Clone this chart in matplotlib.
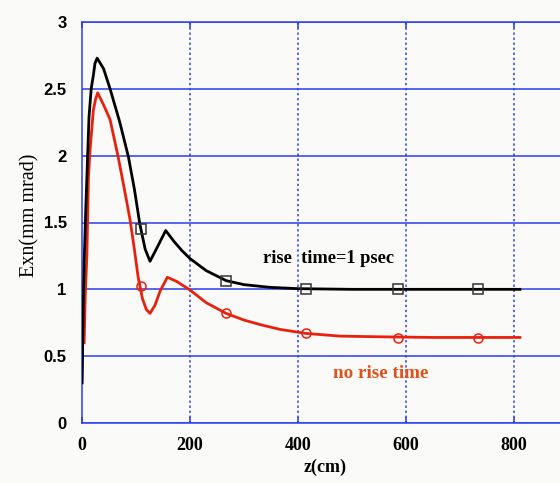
import matplotlib
matplotlib.use("Agg")
import matplotlib.pyplot as plt

# Emittance along the beamline
z_rise = [0, 2, 4, 7, 10, 13, 17, 21, 24, 28, 40, 52, 70, 86, 97, 107, 117, 126,
          140, 155, 170, 185, 200, 230, 267, 300, 348, 400, 500, 600, 700, 811]
exn_rise = [0.30, 0.80, 1.20, 1.60, 1.95, 2.29, 2.50, 2.60, 2.69, 2.73, 2.65, 2.50,
            2.25, 1.99, 1.75, 1.49, 1.30, 1.21, 1.32, 1.44, 1.36, 1.29, 1.23, 1.14,
            1.065, 1.035, 1.015, 1.005, 1.0, 1.0, 1.0, 1.0]

z_norise = [4, 6, 9, 12, 15, 18, 21, 25, 29, 40, 52, 67, 78, 89, 97, 104, 112, 119,
            126, 135, 145, 158, 175, 200, 230, 267, 300, 331, 367, 415, 478, 550,
            650, 750, 811]
exn_norise = [0.60, 0.95, 1.25, 1.84, 2.05, 2.19, 2.34, 2.42, 2.47, 2.38, 2.27, 1.99,
              1.76, 1.52, 1.30, 1.09, 0.93, 0.85, 0.82, 0.88, 0.99, 1.09, 1.06, 0.995,
              0.90, 0.82, 0.77, 0.735, 0.70, 0.67, 0.65, 0.645, 0.64, 0.64, 0.64]

# Marked sample positions
z_marks = [109, 267, 415, 585, 733]
exn_rise_marks = [1.45, 1.065, 1.0, 1.0, 1.0]
exn_norise_marks = [1.025, 0.82, 0.67, 0.635, 0.635]

# Initial ramp of the reference run
z_ref = [0, 2, 5]
exn_ref = [0.30, 0.70, 1.0]

x_ticks = [0, 200, 400, 600, 800]
y_ticks = [0, 0.5, 1, 1.5, 2, 2.5, 3]

blue = "#2b3cf0"
bg = "#fafaf8"

fig = plt.figure(figsize=(5.6, 4.83), dpi=100, facecolor=bg)
W, H = 560, 483
left, right, top, bottom = 82, 622, 22, 423
ax = fig.add_axes([left / W, (H - bottom) / H, (right - left) / W, (bottom - top) / H])
ax.set_facecolor(bg)
ax.set_xlim(0, 1000)
ax.set_ylim(0, 3)

for y in y_ticks:
    ax.axhline(y, color=blue, lw=1.1, zorder=1)
for x in [200, 400, 600, 800, 1000]:
    ax.axvline(x, color=blue, lw=1.1, ls=(0, (1.5, 1.8)), zorder=1)

for s in ax.spines.values():
    s.set_color(blue)
    s.set_linewidth(1.1)

ax.set_xticks(x_ticks)
ax.set_yticks(y_ticks)
ax.set_yticklabels(["0", "0.5", "1", "1.5", "2", "2.5", "3"])
ax.tick_params(axis="x", direction="in", length=4, width=1.1, color=blue,
               top=True, pad=10)
ax.tick_params(axis="y", length=0, pad=11)
for lab in ax.get_xticklabels():
    lab.set_fontfamily("Liberation Serif")
    lab.set_fontweight("bold")
    lab.set_fontsize(13)
for lab in ax.get_yticklabels():
    lab.set_fontfamily("Liberation Sans")
    lab.set_fontweight("bold")
    lab.set_fontsize(12)

ax.plot(z_ref, exn_ref, color="#1010c0", lw=1.8, zorder=2)
ax.plot(z_norise, exn_norise, color="#e8210e", lw=2.0, zorder=3)
ax.plot(z_rise, exn_rise, color="black", lw=2.0, zorder=4)
ax.plot(z_marks, exn_rise_marks, ls="none", marker="s", ms=7, mfc="none",
        mec="#333333", mew=1.1, zorder=5)
ax.plot(z_marks, exn_norise_marks, ls="none", marker="o", ms=6.5, mfc="none",
        mec="#e8210e", mew=1.1, zorder=5)

ax.text(335, 1.234, "rise  time=1 psec", fontfamily="Liberation Serif",
        fontweight="bold", fontsize=13.2, va="center", ha="left", color="black")
ax.text(465, 0.374, "no rise time", fontfamily="Liberation Serif",
        fontweight="bold", fontsize=13.8, va="center", ha="left", color="#e0501a")

fig.text(325 / W, 1 - 467 / H, "z(cm)", fontfamily="Liberation Serif",
         fontweight="bold", fontsize=13, ha="center", va="center")
fig.text(30 / W, 1 - 215 / H, "Exn(mm mrad)", fontfamily="Liberation Serif",
         fontsize=14.5, rotation=90, ha="center", va="center")

fig.savefig("out.png", dpi=100, facecolor=bg)
